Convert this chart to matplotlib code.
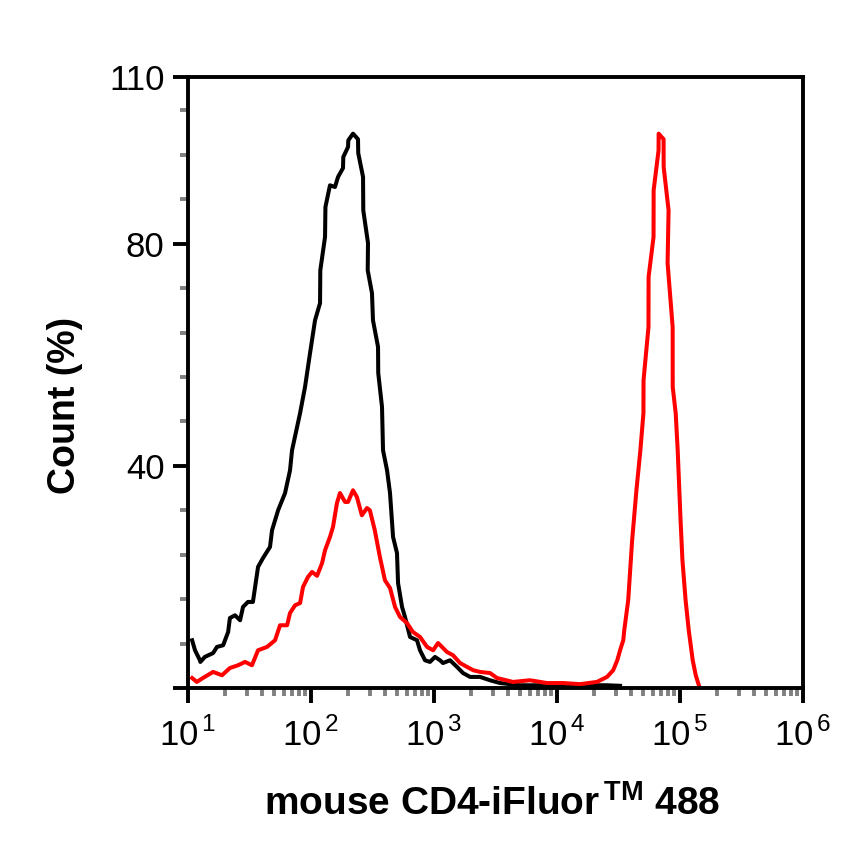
import numpy as np
import matplotlib
matplotlib.use('Agg')
import matplotlib.pyplot as plt
from matplotlib.ticker import FixedLocator, FuncFormatter, NullFormatter

# unstained control (black)
black_x = [10.8, 11.4, 12.5, 12.6, 13.7, 16.0, 17.2, 19.3, 21.2, 21.9, 24.1, 26.5, 28.0, 30.7,
           33.7, 37.1, 40.7, 46.4, 48.2, 54.0, 61.5, 67.5, 70.1, 81.5, 89.4, 98.2, 107.8,
           118.4, 119, 130, 131, 142.6, 156.6, 165.8, 182, 183, 200, 201, 219.5, 241, 242,
           264.8, 266, 290.6, 289, 313, 319, 350.6, 352, 377.7, 385, 415, 438.7, 464.5, 500,
           510, 549.5, 580.8, 638, 727.6, 769, 845, 927, 1018, 1119, 1183, 1349, 1538, 1721,
           1963, 2367, 2853, 3441, 5003, 8291, 15400, 25500, 32550]
black_y = [8.6, 6.8, 5.0, 4.7, 5.6, 6.3, 7.4, 7.7, 10.1, 12.6, 13.1, 12.2, 14.6, 15.5,
           15.5, 21.8, 23.4, 25.4, 28.4, 32.0, 35.1, 39.2, 42.8, 49.5, 54.2, 60.3, 66.2,
           69.3, 75.2, 81.2, 86.6, 90.5, 90.2, 92.0, 93.6, 95.6, 97.4, 98.6, 99.8, 98.8, 96.3,
           92.0, 86.0, 80.1, 75.2, 71.1, 66.2, 61.4, 56.7, 50.6, 42.8, 39.2, 35.1, 27.2, 24.3,
           18.9, 14.6, 12.8, 9.2, 8.6, 6.8, 5.0, 4.7, 5.6, 5.0, 4.5, 5.0, 3.8, 2.7,
           2.0, 2.0, 1.4, 0.9, 0.5, 0.5, 0.5, 0.5, 0.4]

# mouse CD4-iFluor 488 stained (red)
red_x = [10.8, 11.8, 13.2, 16.0, 18.9, 21.9, 25.5, 29.1, 33.1, 37.1, 43.9, 51.0, 56.0, 63.9,
         67.5, 74.2, 81.5, 86.1, 94.5, 101.9, 112, 123, 130, 142.6, 150.9, 162.5, 172, 189,
         200, 219.5, 236, 259, 285, 301, 330, 363, 399, 439, 482, 529, 603, 673, 769, 878,
         983, 1078, 1160, 1273, 1428, 1628, 1857, 2085, 2367, 2853, 3252, 4384, 6034, 8291,
         11200, 15400, 21100, 25500, 28600, 30900, 32550, 34560, 35200, 37900, 40800, 44200,
         47600, 50400, 50500, 55400, 55500, 60900, 61000, 66900, 67000, 73500, 73600, 80700,
         79200, 87100, 87200, 92200, 95700, 101000, 104600, 111000, 117700, 126800, 134200,
         142200]
red_y = [1.8, 1.1, 1.8, 2.9, 2.3, 3.6, 4.1, 4.7, 4.1, 6.8, 7.4, 8.6, 11.3, 11.3,
         13.5, 14.9, 15.3, 18.2, 20.0, 20.9, 20.2, 22.5, 24.8, 27.2, 29.0, 33.3, 35.1, 33.5,
         33.5, 35.6, 34.4, 31.1, 32.4, 32.0, 28.4, 23.6, 19.4, 18.0, 14.6, 12.8, 11.7, 10.1, 9.2, 7.4,
         6.8, 8.1, 7.4, 6.5, 5.9, 4.5, 3.8, 3.2, 2.9, 2.7, 1.8, 1.1, 1.4, 0.9,
         0.9, 0.7, 1.1, 2.0, 3.2, 5.0, 6.8, 8.6, 10.4, 15.8, 26.6, 35.6,
         42.8, 49.5, 55.4, 65.0, 74.0, 81.2, 89.6, 96.8, 99.8, 98.8, 93.8, 86.0,
         76.5, 65.0, 54.2, 49.5, 42.8, 30.2, 23.0, 15.8, 10.4, 5.0, 2.3,
         0.5]

y_major = [0, 40, 80, 110]
y_labels = ['', '40', '80', '110']
y_minor = [8, 16, 24, 32, 48, 56, 64, 72, 88, 96, 104]
x_major = [1e1, 1e2, 1e3, 1e4, 1e5, 1e6]
x_minor = [k * 10.0 ** d for d in range(1, 6) for k in range(2, 10)]

plt.rcParams['font.family'] = ['Liberation Sans', 'DejaVu Sans']
plt.rcParams['mathtext.fontset'] = 'custom'
plt.rcParams['mathtext.rm'] = 'Liberation Sans'
plt.rcParams['mathtext.bf'] = 'Liberation Sans:bold'

fig = plt.figure(figsize=(8.66, 8.66), dpi=100)
ax = fig.add_axes([0.2171, 0.2055, 0.7102, 0.7056])

ax.plot(black_x, black_y, color='black', lw=2.9)
ax.plot(red_x, red_y, color='#ff0000', lw=2.9)

ax.set_xscale('log')
ax.set_xlim(10, 1e6)
ax.set_ylim(0, 110)

ax.yaxis.set_major_locator(FixedLocator(y_major))
ax.set_yticklabels(y_labels)
ax.yaxis.set_minor_locator(FixedLocator(y_minor))
ax.xaxis.set_major_locator(FixedLocator(x_major))
ax.xaxis.set_minor_locator(FixedLocator(x_minor))
ax.xaxis.set_major_formatter(FuncFormatter(lambda v, p: r'10$^{\,%d}$' % round(np.log10(v))))
ax.xaxis.set_minor_formatter(NullFormatter())

ax.tick_params(which='major', length=11, width=2.8, labelsize=25, pad=6, color='black')
ax.tick_params(axis='x', which='major', pad=10)
ax.tick_params(which='minor', length=5.5, width=2.8, color='#808080')
for s in ax.spines.values():
    s.set_linewidth(2.8)

ax.set_xlabel(r'mouse CD4-iFluor$^{\,\mathbf{TM}}$ 488', fontsize=28, fontweight='bold')
ax.xaxis.set_label_coords(0.495, -0.19)
ax.xaxis.label.set_verticalalignment('center')
ax.set_ylabel('Count (%)', fontsize=27, fontweight='bold')
ax.yaxis.set_label_coords(-0.2, 0.463)
ax.yaxis.label.set_verticalalignment('center')

fig.savefig('out.png', dpi=100)
